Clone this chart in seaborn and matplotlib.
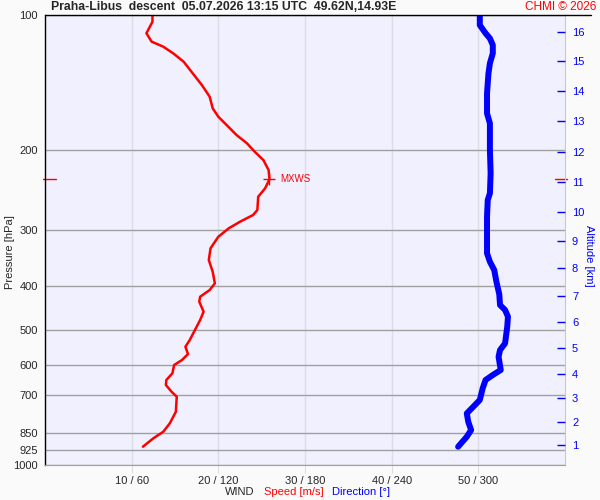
import matplotlib
matplotlib.use("Agg")
import matplotlib.pyplot as plt
from matplotlib.ticker import NullLocator
from matplotlib.lines import Line2D
import seaborn as sns
import pandas as pd

sns.set_style("white")
plt.rcParams["font.family"] = ["Liberation Sans", "DejaVu Sans"]

# ---------------------------------------------------------------- data
title = "Praha-Libus  descent  05.07.2026 13:15 UTC  49.62N,14.93E"

speed_pres = [100, 103.5, 109.8, 114.6, 117.6, 121.7, 127.0, 133.7, 143.1, 151.9,
              161.2, 168.3, 177.1, 184.8, 192.8, 201.3, 210.1, 221.1, 231.8, 242.7,
              253.4, 271.3, 278.3, 288.0, 297.9, 311.0, 329.9, 350.4, 372.0, 394.8,
              408.5, 422.7, 433.6, 456.4, 476.2, 501.2, 527.6, 546.0, 566.8, 584.5,
              599.5, 625.5, 647.3, 664.1, 687.3, 705.1, 761.5, 808.0, 843.4, 872.4,
              910.6]
speed_ms = [12.4, 12.4, 11.7, 12.3, 13.65, 14.8, 16.0, 16.9, 18.1, 19.0,
            19.35, 20.0, 21.15, 22.1, 23.3, 24.2, 25.2, 25.8, 25.9, 25.4,
            24.6, 24.5, 24.0, 22.5, 21.2, 20.0, 19.1, 18.9, 19.35, 19.6,
            19.0, 17.9, 17.8, 18.3, 17.9, 17.3, 16.7, 16.2, 16.5, 15.8,
            14.9, 14.7, 14.0, 13.95, 14.6, 15.2, 15.1, 14.4, 13.65, 12.5,
            11.3]

dir_pres = [100, 105.3, 109.8, 112.7, 116.6, 121.7, 128.0, 134.8, 149.3, 165.4,
            174.1, 199.5, 224.8, 249.0, 257.7, 280.7, 329.9, 338.5, 353.4, 368.8,
            391.5, 417.6, 441.0, 452.4, 468.2, 492.8, 536.7, 555.3, 574.7, 615.0,
            631.0, 647.3, 675.4, 717.0, 742.2, 767.8, 801.4, 836.1, 865.3, 910.6]
dir_deg = [301, 301, 305, 308, 310, 310, 308, 307, 306, 306,
           308, 308, 308.5, 308, 306.5, 306, 306, 306, 308, 311,
           312.5, 314.5, 315, 318.5, 320.5, 320, 318.5, 315, 314, 315.5,
           310, 305, 303, 301, 296.5, 292, 293, 295, 292, 286]

mxws_pres = 232
mxws_speed = 25.9

pres_ticks = [100, 200, 300, 400, 500, 600, 700, 850, 925, 1000]
speed_ticks = [10, 20, 30, 40, 50]
alt_km = list(range(1, 17))
alt_pres = [902.7, 802, 711, 627, 549.6, 481.8, 420.6, 365, 317.4, 274,
            235.4, 201.6, 172, 147.5, 126.7, 108.9]

speed_df = pd.DataFrame({"speed": speed_ms, "pres": speed_pres})
dir_df = pd.DataFrame({"dir": dir_deg, "pres": dir_pres})

# ---------------------------------------------------------------- figure
fig = plt.figure(figsize=(6, 5), dpi=100, facecolor="#fafafa")
ax = fig.add_axes([0.075, 0.07, 0.8667, 0.9])
ax.set_facecolor("#f0f0ff")

# speed
sns.lineplot(data=speed_df, x="speed", y="pres", sort=False, estimator=None,
             color="red", lw=1.8, ax=ax)

ax.set_yscale("log")
ax.set_ylim(1000, 100)
ax.set_xlim(0, 60)
ax.yaxis.set_minor_locator(NullLocator())
ax.set_yticks(pres_ticks)
ax.set_yticklabels([str(p) for p in pres_ticks])
ax.set_xticks(speed_ticks)
ax.set_xticklabels([f"{s} / {s * 6}" for s in speed_ticks])
ax.grid(axis="y", color="#a0a0a0", lw=1)
ax.grid(axis="x", color="#dcdce4", lw=1)
ax.tick_params(axis="y", length=0, pad=5, labelsize=8)
ax.tick_params(axis="x", length=6, color="#dcdce4", direction="out", pad=2, labelsize=8)

ax.spines["left"].set_color("black")
ax.spines["left"].set_linewidth(1)
ax.spines["top"].set_visible(False)
ax.spines["right"].set_color("#c8c8d0")
ax.spines["bottom"].set_color("#a0a0a0")

ax.set_xlabel("")
ax.set_ylabel("Pressure [hPa]", fontsize=8, va="center")
ax.yaxis.set_label_coords(-0.068, 0.473)

ax.plot([mxws_speed], [mxws_pres], marker="+", ms=9, mew=1, color="red")
ax.text(mxws_speed + 1.2, mxws_pres, "MXWS", color="red", fontsize=7, va="center")
yt = ax.get_yaxis_transform()
ax.plot([-0.004, 0.021], [mxws_pres, mxws_pres], color="red", lw=1, transform=yt, clip_on=False)
ax.plot([0.981, 1.004], [mxws_pres, mxws_pres], color="red", lw=1, transform=yt, clip_on=False)

# direction
ax_dir = ax.twiny()
sns.lineplot(data=dir_df, x="dir", y="pres", sort=False, estimator=None,
             color="blue", lw=4.3, ax=ax_dir)
ax_dir.set_xlim(0, 360)
ax_dir.set_xticks([])
ax_dir.set_xlabel("")
ax_dir.set_ylabel("")
for s in ax_dir.spines.values():
    s.set_visible(False)

# altitude axis
ax_alt = ax.twinx()
ax_alt.set_yscale("log")
ax_alt.set_ylim(1000, 100)
ax_alt.yaxis.set_minor_locator(NullLocator())
ax_alt.set_yticks(alt_pres)
ax_alt.set_yticklabels([str(k) for k in alt_km])
ax_alt.tick_params(axis="y", direction="in", length=6, width=1, color="blue",
                   labelcolor="blue", pad=5, labelsize=8)
for s in ax_alt.spines.values():
    s.set_visible(False)
ax_alt.set_ylabel("Altitude [km]", rotation=270, color="blue", fontsize=8, va="center")
ax_alt.yaxis.set_label_coords(1.046, 0.464)

# header and footer
fig.add_artist(Line2D([45 / 600, 591 / 600], [1 - 15 / 500, 1 - 15 / 500], color="black", lw=1))
fig.text(51 / 600, 1 - 7.5 / 500, title, fontsize=8.8, weight="bold", va="center")
fig.text(596 / 600, 1 - 7.5 / 500, "CHMI © 2026", fontsize=8.5, color="red", ha="right", va="center")
fig.text(225 / 600, 1 - 492 / 500, "WIND", fontsize=8, va="center")
fig.text(264 / 600, 1 - 492 / 500, "Speed [m/s]", fontsize=8, color="red", va="center")
fig.text(332 / 600, 1 - 492 / 500, "Direction [°]", fontsize=8, color="blue", va="center")

fig.savefig("out.png", dpi=100, facecolor=fig.get_facecolor())
